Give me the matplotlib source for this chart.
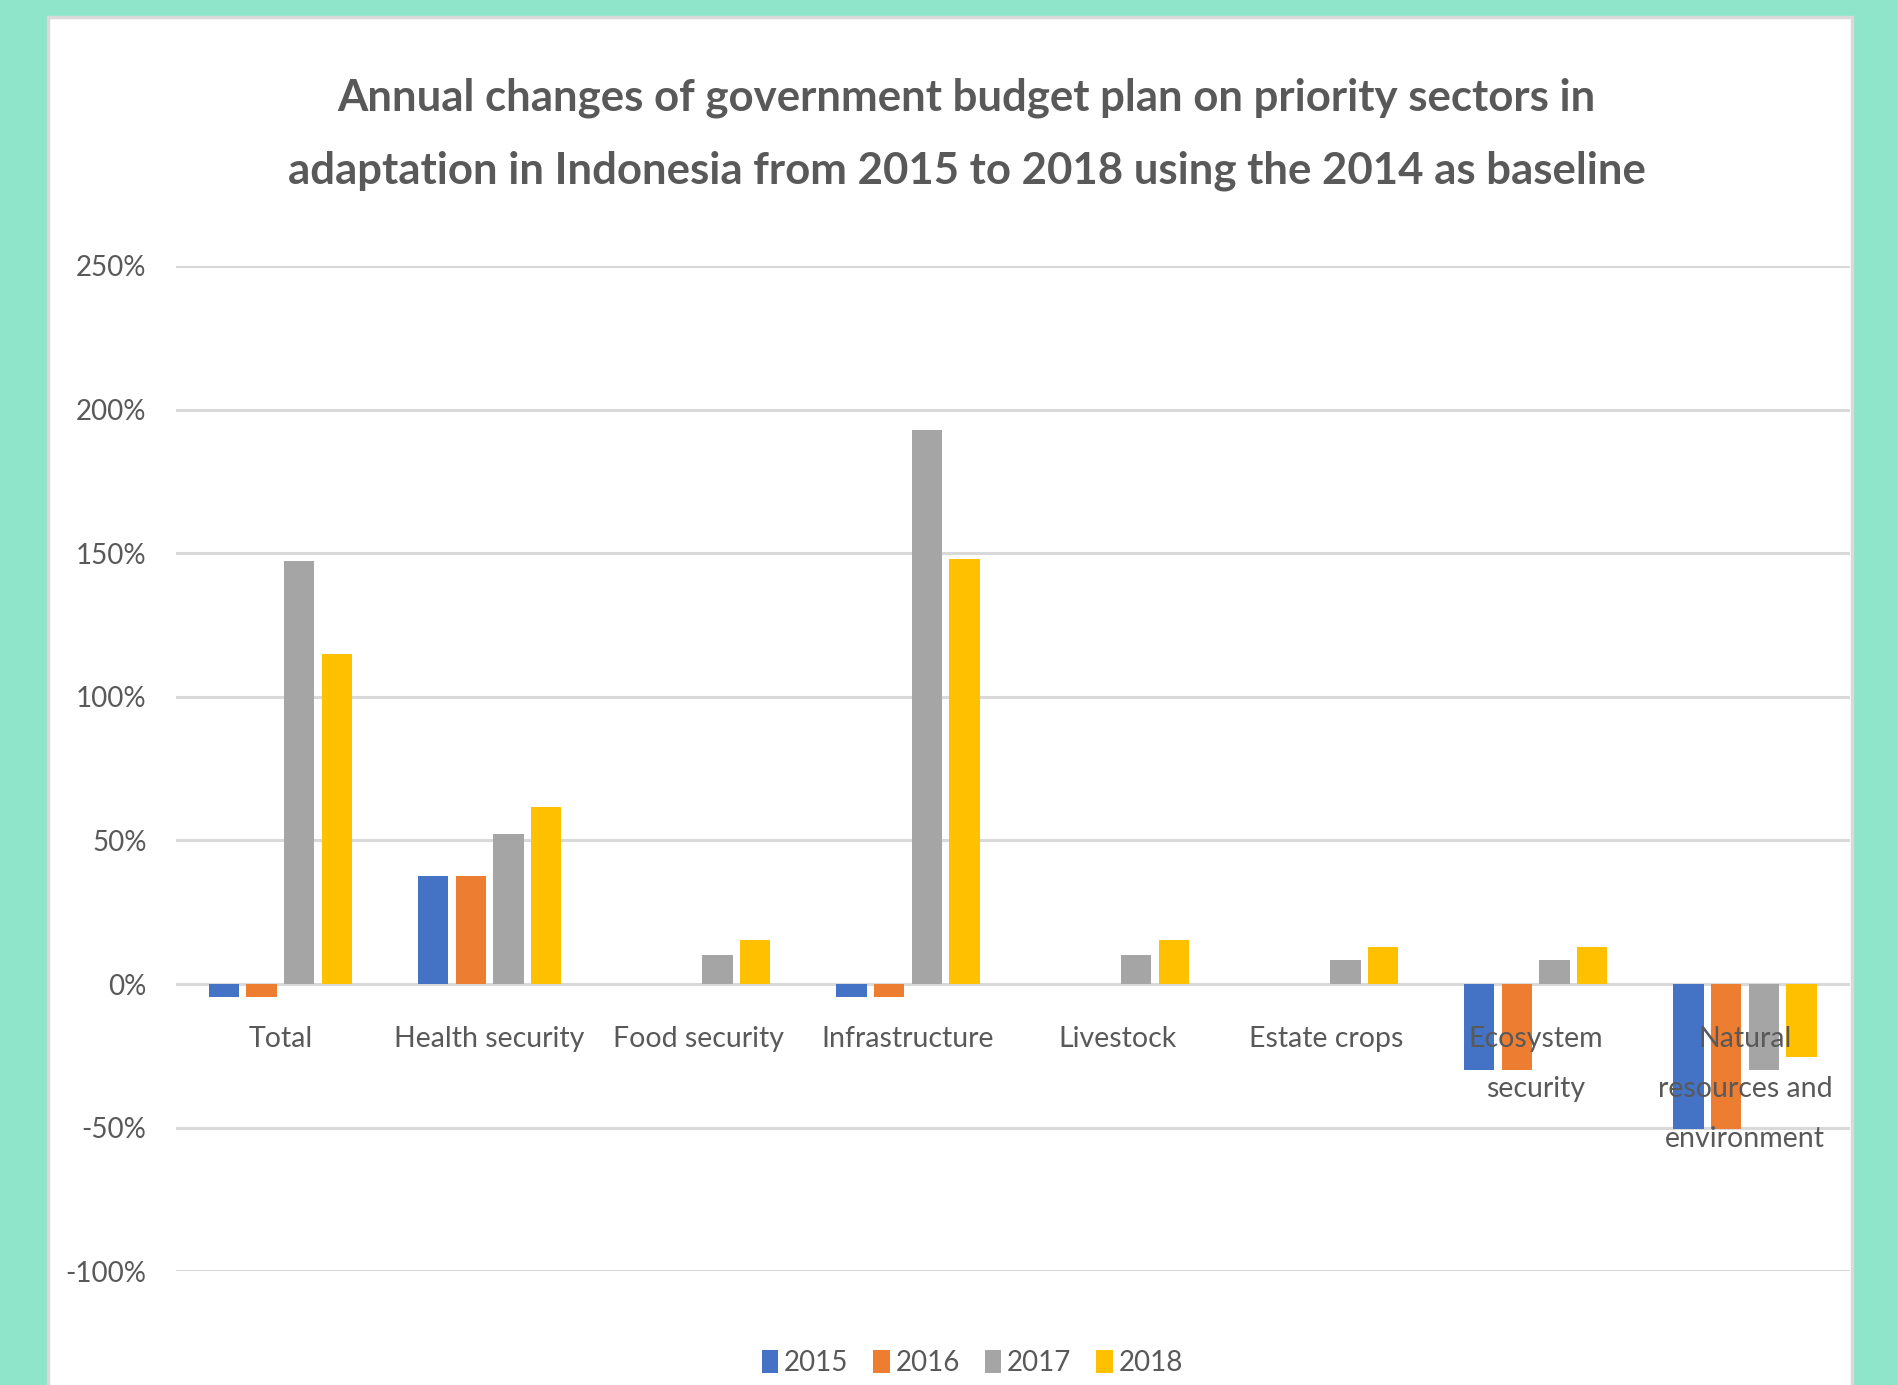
import numpy as np
import matplotlib
matplotlib.use("Agg")
import matplotlib.pyplot as plt
from matplotlib.patches import Rectangle
from matplotlib.ticker import FuncFormatter
from matplotlib.transforms import offset_copy

plt.rcParams['font.family'] = ['Lato', 'DejaVu Sans']

# Data (percent change vs 2014)
categories = ["Total", "Health security", "Food security", "Infrastructure",
              "Livestock", "Estate crops", "Ecosystem\nsecurity",
              "Natural\nresources and\nenvironment"]
years = ["2015", "2016", "2017", "2018"]
v2015 = [-4.6, 37.7, 0, -4.6, 0, 0, -30, -50.5]
v2016 = [-4.6, 37.7, 0, -4.6, 0, 0, -30, -50.5]
v2017 = [147.4, 52.3, 10, 193, 10, 8.4, 8.4, -30]
v2018 = [115, 61.7, 15.3, 148, 15.3, 13, 13, -25.3]
colors = ["#4472C4", "#ED7D31", "#A5A5A5", "#FFC000"]
text_col = "#595959"

fig = plt.figure(figsize=(18.99, 13.85), dpi=100)
fig.patch.set_facecolor("#8EE5C9")

# white chart panel
fig.patches.append(Rectangle((0.0255, -0.01), 0.950, 0.998, transform=fig.transFigure,
                             facecolor="white", edgecolor="#D9D9D9", linewidth=2.5, zorder=0))

ax = fig.add_axes([0.0925, 0.082, 0.8815, 0.726])
ax.set_zorder(2)
ax.set_facecolor("none")

x = np.arange(len(categories))
width = 0.145
step = 0.18
for i, (vals, yr) in enumerate(zip([v2015, v2016, v2017, v2018], years)):
    ax.bar(x + (i - 1.5) * step, vals, width, color=colors[i], label=yr, zorder=3)

ax.set_ylim(-100, 250)
ax.set_yticks(np.arange(-100, 251, 50))
ax.yaxis.set_major_formatter(FuncFormatter(lambda v, p: f"{int(v)}%"))
ax.set_xlim(-0.5, len(categories) - 0.5)
ax.set_xticks([])

ax.grid(axis="y", color="#D9D9D9", linewidth=2.2, zorder=0)
ax.set_axisbelow(True)
for s in ax.spines.values():
    s.set_visible(False)
ax.tick_params(axis="y", length=0, colors=text_col, labelsize=20, pad=21)

# category labels sit just under the 0% line, over the bars (like Excel)
lab_tr = offset_copy(ax.transData, fig=fig, x=0, y=-30, units="points")
for xi, cat in zip(x, categories):
    ax.text(xi, 0, cat, transform=lab_tr, ha="center", va="top", fontsize=20.5,
            color=text_col, linespacing=2.15, zorder=5)

fig.text(0.509, 0.903, "Annual changes of government budget plan on priority sectors in\n"
         "adaptation in Indonesia from 2015 to 2018 using the 2014 as baseline",
         ha="center", va="center", fontsize=31.5, fontweight="bold", color=text_col,
         linespacing=2.0)

leg = fig.legend(loc="center", bbox_to_anchor=(0.512, 0.016), ncol=4, frameon=False,
                 fontsize=20, handlelength=0.6, handleheight=0.9, handletextpad=0.2,
                 columnspacing=0.9, labelcolor=text_col)

fig.savefig("out.png", dpi=100, facecolor=fig.get_facecolor())
